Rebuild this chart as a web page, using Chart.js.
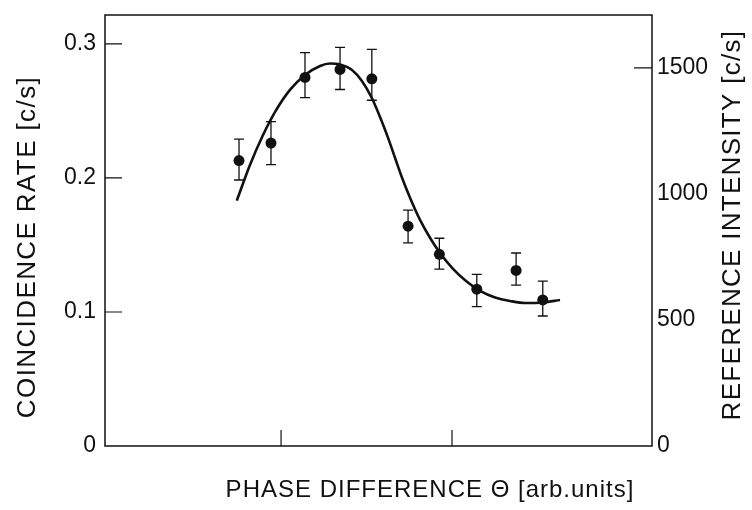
<!DOCTYPE html>
<html><head><meta charset="utf-8">
<script src="https://cdn.jsdelivr.net/npm/chart.js@4"></script>
<style>html,body{margin:0;padding:0;background:#fff;}</style>
</head><body>
<canvas id="c" width="752" height="510"></canvas>
<script>
// measured points (x in arbitrary units, left-axis value in c/s)
const pointX  = [7.54, 9.41, 11.40, 13.45, 15.31, 17.43, 19.26, 21.45, 23.75, 25.31];
const pointY  = [0.213, 0.226, 0.275, 0.281, 0.274, 0.164, 0.143, 0.117, 0.131, 0.109];
const errHigh = [0.229, 0.242, 0.2935, 0.2975, 0.296, 0.176, 0.155, 0.128, 0.144, 0.123];
const errLow  = [0.1985, 0.210, 0.260, 0.266, 0.258, 0.1515, 0.132, 0.104, 0.120, 0.097];
// reference-intensity curve (drawn against the left scale)
const curveX = [7.41, 8.18, 8.89, 9.65, 10.52, 11.40, 12.28, 12.86, 13.45, 14.15, 14.73, 15.31, 15.79, 16.26, 16.67, 17.06, 17.55, 18.13, 18.72, 19.30, 20.06, 20.82, 21.64, 22.52, 23.40, 24.28, 25.33, 26.32];
const curveY = [0.1831, 0.2097, 0.2306, 0.2493, 0.2657, 0.2769, 0.2836, 0.2854, 0.2847, 0.2806, 0.2724, 0.2597, 0.2455, 0.2299, 0.2149, 0.2007, 0.1851, 0.1687, 0.1552, 0.1440, 0.1321, 0.1231, 0.1157, 0.1108, 0.1082, 0.1067, 0.1071, 0.1090];
// axes
const leftTicks = [0, 0.1, 0.2, 0.3];
const leftTickLabels = ['0', '0.1', '0.2', '0.3'];
const leftInnerTicks = [0.1, 0.2, 0.3];
const rightTicks = [0, 500, 1000, 1500];
const rightTickLabels = ['0', '500', '1000', '1500'];
const rightInnerTicks = [1500];
const xInnerTicks = [10, 20];
const leftTitle = 'COINCIDENCE RATE [c/s]';
const rightTitle = 'REFERENCE INTENSITY [c/s]';
const xTitle = 'PHASE DIFFERENCE \u0398 [arb.units]';

const INK = '#111';
const tickFont = {family: "'Liberation Sans', Arial, sans-serif", size: 23};

const decor = {
  id: 'decor',
  beforeDatasetsDraw(chart) {
    const {ctx, chartArea: a, scales} = chart;
    ctx.save();
    ctx.strokeStyle = INK;
    ctx.lineWidth = 1.5;
    ctx.strokeRect(a.left, a.top, a.right - a.left, a.bottom - a.top);
    ctx.lineWidth = 1.2;
    ctx.beginPath();
    leftInnerTicks.forEach(v => { const y = scales.y.getPixelForValue(v); ctx.moveTo(a.left, y); ctx.lineTo(a.left + 17, y); });
    rightInnerTicks.forEach(v => { const y = scales.y2.getPixelForValue(v); ctx.moveTo(a.right, y); ctx.lineTo(a.right - 18, y); });
    xInnerTicks.forEach(v => { const x = scales.x.getPixelForValue(v); ctx.moveTo(x, a.bottom); ctx.lineTo(x, a.bottom - 16); });
    ctx.stroke();
    // error bars
    ctx.lineWidth = 1.3;
    ctx.beginPath();
    pointX.forEach((xv, i) => {
      const x = scales.x.getPixelForValue(xv);
      const yh = scales.y.getPixelForValue(errHigh[i]);
      const yl = scales.y.getPixelForValue(errLow[i]);
      ctx.moveTo(x, yh); ctx.lineTo(x, yl);
      ctx.moveTo(x - 5, yh); ctx.lineTo(x + 5, yh);
      ctx.moveTo(x - 5, yl); ctx.lineTo(x + 5, yl);
    });
    ctx.stroke();
    ctx.restore();
  },
  afterDraw(chart) {
    const {ctx} = chart;
    ctx.save();
    ctx.fillStyle = INK;
    ctx.textAlign = 'center';
    ctx.textBaseline = 'middle';
    ctx.font = "26px 'Liberation Sans', Arial, sans-serif";
    ctx.letterSpacing = '1.4px';
    ctx.save(); ctx.translate(28, 247); ctx.rotate(-Math.PI / 2); ctx.fillText(leftTitle, 0, 0); ctx.restore();
    ctx.letterSpacing = '1.3px';
    ctx.save(); ctx.translate(733, 225); ctx.rotate(-Math.PI / 2); ctx.fillText(rightTitle, 0, 0); ctx.restore();
    ctx.font = "24px 'Liberation Sans', Arial, sans-serif";
    ctx.letterSpacing = '1px';
    ctx.fillText(xTitle, 430, 490);
    ctx.restore();
  }
};

new Chart(document.getElementById('c'), {
  type: 'scatter',
  data: {
    datasets: [
      {
        data: pointX.map((x, i) => ({x, y: pointY[i]})),
        yAxisID: 'y',
        pointRadius: 5.5,
        pointHoverRadius: 5.5,
        pointBorderWidth: 0,
        backgroundColor: INK,
        borderColor: INK,
        order: 0
      },
      {
        data: curveX.map((x, i) => ({x, y: curveY[i]})),
        yAxisID: 'y',
        showLine: true,
        cubicInterpolationMode: 'monotone',
        pointRadius: 0,
        borderWidth: 2.6,
        borderColor: INK,
        fill: false,
        order: 1
      }
    ]
  },
  options: {
    responsive: false,
    animation: false,
    devicePixelRatio: 1,
    layout: {padding: {top: 15, left: 0, right: 0, bottom: 0}},
    plugins: {legend: {display: false}, tooltip: {enabled: false}},
    scales: {
      x: {
        type: 'linear', min: -0.3, max: 31.7,
        grid: {display: false, tickLength: 0}, border: {display: false},
        ticks: {display: false},
        afterFit(s) { s.height = 64; s.paddingLeft = 0; s.paddingRight = 0; }
      },
      y: {
        type: 'linear', position: 'left', min: 0, max: 0.3216,
        grid: {display: false, drawTicks: false, tickLength: 0}, border: {display: false},
        afterBuildTicks(s) { s.ticks = leftTicks.map(v => ({value: v})); },
        ticks: {
          color: INK, font: tickFont, padding: 9,
          callback: (v, i) => leftTickLabels[i]
        },
        afterFit(s) { s.width = 105; s.paddingTop = 0; s.paddingBottom = 0; }
      },
      y2: {
        type: 'linear', position: 'right', min: 0, max: 1710,
        grid: {display: false, drawTicks: false, tickLength: 0}, border: {display: false},
        afterBuildTicks(s) { s.ticks = rightTicks.map(v => ({value: v})); },
        ticks: {
          color: INK, font: tickFont, padding: 5,
          callback: (v, i) => rightTickLabels[i]
        },
        afterFit(s) { s.width = 100; s.paddingTop = 0; s.paddingBottom = 0; }
      }
    }
  },
  plugins: [decor]
});
</script>
</body></html>
